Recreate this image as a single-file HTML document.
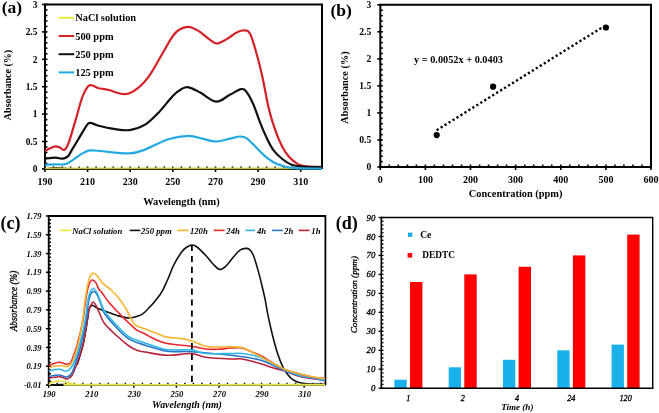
<!DOCTYPE html>
<html><head><meta charset="utf-8"><style>
html,body{margin:0;padding:0;background:#fff;}
body{width:659px;height:413px;overflow:hidden;font-family:"Liberation Serif",serif;}
svg{display:block;filter:blur(0.3px);}
</style></head><body>
<svg width="659" height="413" viewBox="0 0 659 413">
<rect width="659" height="413" fill="#fff"/>
<g>
<path d="M45.0,4.5 H322.0 V168.9" fill="none" stroke="#000" stroke-width="2"/>
<line x1="45.0" y1="3.5" x2="45.0" y2="169.9" stroke="#000" stroke-width="2"/>
<line x1="44.0" y1="168.9" x2="322.0" y2="168.9" stroke="#000" stroke-width="2"/>
<line x1="42.0" y1="168.9" x2="47.5" y2="168.9" stroke="#000" stroke-width="1.6"/>
<text x="37.4" y="172.1" text-anchor="end" font-family="Liberation Serif" font-weight="bold" font-size="9.4">0</text>
<line x1="45.0" y1="163.4" x2="47.5" y2="163.4" stroke="#000" stroke-width="1.6"/>
<line x1="45.0" y1="157.9" x2="47.5" y2="157.9" stroke="#000" stroke-width="1.6"/>
<line x1="45.0" y1="152.5" x2="47.5" y2="152.5" stroke="#000" stroke-width="1.6"/>
<line x1="45.0" y1="147.0" x2="47.5" y2="147.0" stroke="#000" stroke-width="1.6"/>
<line x1="42.0" y1="141.5" x2="47.5" y2="141.5" stroke="#000" stroke-width="1.6"/>
<text x="37.4" y="144.7" text-anchor="end" font-family="Liberation Serif" font-weight="bold" font-size="9.4">0.5</text>
<line x1="45.0" y1="136.0" x2="47.5" y2="136.0" stroke="#000" stroke-width="1.6"/>
<line x1="45.0" y1="130.5" x2="47.5" y2="130.5" stroke="#000" stroke-width="1.6"/>
<line x1="45.0" y1="125.1" x2="47.5" y2="125.1" stroke="#000" stroke-width="1.6"/>
<line x1="45.0" y1="119.6" x2="47.5" y2="119.6" stroke="#000" stroke-width="1.6"/>
<line x1="42.0" y1="114.1" x2="47.5" y2="114.1" stroke="#000" stroke-width="1.6"/>
<text x="37.4" y="117.3" text-anchor="end" font-family="Liberation Serif" font-weight="bold" font-size="9.4">1</text>
<line x1="45.0" y1="108.6" x2="47.5" y2="108.6" stroke="#000" stroke-width="1.6"/>
<line x1="45.0" y1="103.1" x2="47.5" y2="103.1" stroke="#000" stroke-width="1.6"/>
<line x1="45.0" y1="97.7" x2="47.5" y2="97.7" stroke="#000" stroke-width="1.6"/>
<line x1="45.0" y1="92.2" x2="47.5" y2="92.2" stroke="#000" stroke-width="1.6"/>
<line x1="42.0" y1="86.7" x2="47.5" y2="86.7" stroke="#000" stroke-width="1.6"/>
<text x="37.4" y="89.9" text-anchor="end" font-family="Liberation Serif" font-weight="bold" font-size="9.4">1.5</text>
<line x1="45.0" y1="81.2" x2="47.5" y2="81.2" stroke="#000" stroke-width="1.6"/>
<line x1="45.0" y1="75.7" x2="47.5" y2="75.7" stroke="#000" stroke-width="1.6"/>
<line x1="45.0" y1="70.3" x2="47.5" y2="70.3" stroke="#000" stroke-width="1.6"/>
<line x1="45.0" y1="64.8" x2="47.5" y2="64.8" stroke="#000" stroke-width="1.6"/>
<line x1="42.0" y1="59.3" x2="47.5" y2="59.3" stroke="#000" stroke-width="1.6"/>
<text x="37.4" y="62.5" text-anchor="end" font-family="Liberation Serif" font-weight="bold" font-size="9.4">2</text>
<line x1="45.0" y1="53.8" x2="47.5" y2="53.8" stroke="#000" stroke-width="1.6"/>
<line x1="45.0" y1="48.3" x2="47.5" y2="48.3" stroke="#000" stroke-width="1.6"/>
<line x1="45.0" y1="42.9" x2="47.5" y2="42.9" stroke="#000" stroke-width="1.6"/>
<line x1="45.0" y1="37.4" x2="47.5" y2="37.4" stroke="#000" stroke-width="1.6"/>
<line x1="42.0" y1="31.9" x2="47.5" y2="31.9" stroke="#000" stroke-width="1.6"/>
<text x="37.4" y="35.1" text-anchor="end" font-family="Liberation Serif" font-weight="bold" font-size="9.4">2.5</text>
<line x1="45.0" y1="26.4" x2="47.5" y2="26.4" stroke="#000" stroke-width="1.6"/>
<line x1="45.0" y1="20.9" x2="47.5" y2="20.9" stroke="#000" stroke-width="1.6"/>
<line x1="45.0" y1="15.5" x2="47.5" y2="15.5" stroke="#000" stroke-width="1.6"/>
<line x1="45.0" y1="10.0" x2="47.5" y2="10.0" stroke="#000" stroke-width="1.6"/>
<line x1="42.0" y1="4.5" x2="47.5" y2="4.5" stroke="#000" stroke-width="1.6"/>
<text x="37.4" y="7.7" text-anchor="end" font-family="Liberation Serif" font-weight="bold" font-size="9.4">3</text>
<line x1="45.0" y1="166.4" x2="45.0" y2="171.9" stroke="#000" stroke-width="1.6"/>
<text x="45.0" y="184.6" text-anchor="middle" font-family="Liberation Serif" font-weight="bold" font-size="10">190</text>
<line x1="53.5" y1="166.4" x2="53.5" y2="168.9" stroke="#000" stroke-width="1.6"/>
<line x1="62.0" y1="166.4" x2="62.0" y2="168.9" stroke="#000" stroke-width="1.6"/>
<line x1="70.6" y1="166.4" x2="70.6" y2="168.9" stroke="#000" stroke-width="1.6"/>
<line x1="79.1" y1="166.4" x2="79.1" y2="168.9" stroke="#000" stroke-width="1.6"/>
<line x1="87.6" y1="166.4" x2="87.6" y2="171.9" stroke="#000" stroke-width="1.6"/>
<text x="87.6" y="184.6" text-anchor="middle" font-family="Liberation Serif" font-weight="bold" font-size="10">210</text>
<line x1="96.1" y1="166.4" x2="96.1" y2="168.9" stroke="#000" stroke-width="1.6"/>
<line x1="104.7" y1="166.4" x2="104.7" y2="168.9" stroke="#000" stroke-width="1.6"/>
<line x1="113.2" y1="166.4" x2="113.2" y2="168.9" stroke="#000" stroke-width="1.6"/>
<line x1="121.7" y1="166.4" x2="121.7" y2="168.9" stroke="#000" stroke-width="1.6"/>
<line x1="130.2" y1="166.4" x2="130.2" y2="171.9" stroke="#000" stroke-width="1.6"/>
<text x="130.2" y="184.6" text-anchor="middle" font-family="Liberation Serif" font-weight="bold" font-size="10">230</text>
<line x1="138.8" y1="166.4" x2="138.8" y2="168.9" stroke="#000" stroke-width="1.6"/>
<line x1="147.3" y1="166.4" x2="147.3" y2="168.9" stroke="#000" stroke-width="1.6"/>
<line x1="155.8" y1="166.4" x2="155.8" y2="168.9" stroke="#000" stroke-width="1.6"/>
<line x1="164.3" y1="166.4" x2="164.3" y2="168.9" stroke="#000" stroke-width="1.6"/>
<line x1="172.8" y1="166.4" x2="172.8" y2="171.9" stroke="#000" stroke-width="1.6"/>
<text x="172.8" y="184.6" text-anchor="middle" font-family="Liberation Serif" font-weight="bold" font-size="10">250</text>
<line x1="181.4" y1="166.4" x2="181.4" y2="168.9" stroke="#000" stroke-width="1.6"/>
<line x1="189.9" y1="166.4" x2="189.9" y2="168.9" stroke="#000" stroke-width="1.6"/>
<line x1="198.4" y1="166.4" x2="198.4" y2="168.9" stroke="#000" stroke-width="1.6"/>
<line x1="206.9" y1="166.4" x2="206.9" y2="168.9" stroke="#000" stroke-width="1.6"/>
<line x1="215.5" y1="166.4" x2="215.5" y2="171.9" stroke="#000" stroke-width="1.6"/>
<text x="215.5" y="184.6" text-anchor="middle" font-family="Liberation Serif" font-weight="bold" font-size="10">270</text>
<line x1="224.0" y1="166.4" x2="224.0" y2="168.9" stroke="#000" stroke-width="1.6"/>
<line x1="232.5" y1="166.4" x2="232.5" y2="168.9" stroke="#000" stroke-width="1.6"/>
<line x1="241.0" y1="166.4" x2="241.0" y2="168.9" stroke="#000" stroke-width="1.6"/>
<line x1="249.6" y1="166.4" x2="249.6" y2="168.9" stroke="#000" stroke-width="1.6"/>
<line x1="258.1" y1="166.4" x2="258.1" y2="171.9" stroke="#000" stroke-width="1.6"/>
<text x="258.1" y="184.6" text-anchor="middle" font-family="Liberation Serif" font-weight="bold" font-size="10">290</text>
<line x1="266.6" y1="166.4" x2="266.6" y2="168.9" stroke="#000" stroke-width="1.6"/>
<line x1="275.1" y1="166.4" x2="275.1" y2="168.9" stroke="#000" stroke-width="1.6"/>
<line x1="283.6" y1="166.4" x2="283.6" y2="168.9" stroke="#000" stroke-width="1.6"/>
<line x1="292.2" y1="166.4" x2="292.2" y2="168.9" stroke="#000" stroke-width="1.6"/>
<line x1="300.7" y1="166.4" x2="300.7" y2="171.9" stroke="#000" stroke-width="1.6"/>
<text x="300.7" y="184.6" text-anchor="middle" font-family="Liberation Serif" font-weight="bold" font-size="10">310</text>
<line x1="309.2" y1="166.4" x2="309.2" y2="168.9" stroke="#000" stroke-width="1.6"/>
<line x1="317.7" y1="166.4" x2="317.7" y2="168.9" stroke="#000" stroke-width="1.6"/>
<path d="M47,168.6 C52,167.6 58,167.4 64,168.2 S70,168.8 75,168.8" fill="none" stroke="#000" stroke-width="1.4"/>
<path d="M45,168.4 H322" fill="none" stroke="#d6d240" stroke-width="1.8" opacity="0.9"/>
<path d="M45.0,150.9 C45.8,150.5 48.3,149.1 50.0,148.3 C51.7,147.5 53.7,146.4 55.4,146.3 C57.1,146.2 58.5,147.0 60.0,147.6 C61.5,148.2 63.0,150.8 64.5,149.8 C66.0,148.8 67.1,146.9 69.0,141.8 C70.9,136.7 73.6,126.6 75.9,119.0 C78.2,111.4 80.4,101.8 82.7,96.2 C85.0,90.6 86.9,86.6 89.6,85.3 C92.3,84.0 95.6,87.5 98.7,88.3 C101.8,89.0 103.6,88.8 108.0,89.8 C112.4,90.8 120.0,94.5 125.0,94.2 C130.0,93.9 134.1,91.0 138.2,87.8 C142.3,84.6 145.8,80.6 149.6,75.3 C153.4,70.0 157.2,62.5 161.0,56.0 C164.8,49.5 169.4,41.0 172.4,36.6 C175.4,32.2 176.5,31.4 179.2,29.8 C181.8,28.2 185.1,26.6 188.3,26.8 C191.5,27.0 195.1,28.9 198.5,30.9 C201.9,32.9 205.8,36.8 208.8,38.9 C211.8,41.0 213.7,43.5 216.7,43.5 C219.7,43.5 223.8,40.7 227.0,38.9 C230.2,37.1 233.4,34.2 236.1,32.8 C238.8,31.4 240.6,30.4 242.9,30.5 C245.2,30.6 247.5,29.3 249.8,33.2 C252.1,37.1 254.5,46.5 256.6,53.7 C258.7,60.9 260.2,67.3 262.3,76.5 C264.4,85.7 266.7,99.8 268.9,108.9 C271.1,118.0 273.4,124.9 275.6,131.2 C277.8,137.5 280.1,142.5 282.3,146.8 C284.5,151.1 286.4,153.9 289.0,156.8 C291.6,159.7 294.9,162.5 297.9,164.1 C300.9,165.7 302.8,165.9 306.8,166.4 C310.8,166.9 319.5,166.9 322.0,167.0" fill="none" stroke="#d42027" stroke-width="2.2"/>
<path d="M45.0,158.7 C46.7,158.5 52.2,157.6 55.2,157.6 C58.2,157.6 60.6,158.9 62.8,158.7 C64.9,158.4 66.7,157.4 68.1,156.1 C69.5,154.8 69.6,153.7 71.3,150.9 C73.0,148.1 75.9,143.3 78.2,139.5 C80.5,135.7 83.1,130.9 85.0,128.1 C86.9,125.3 87.3,123.3 89.6,122.9 C91.9,122.5 94.7,124.8 98.7,125.8 C102.7,126.8 108.6,128.2 113.7,128.9 C118.8,129.6 124.3,130.8 129.6,130.1 C134.9,129.3 140.6,127.4 145.5,124.4 C150.4,121.4 154.6,116.7 159.2,111.9 C163.8,107.2 169.0,99.8 172.8,95.9 C176.6,92.0 179.3,90.1 182.0,88.7 C184.7,87.3 185.8,86.7 188.8,87.3 C191.8,87.9 195.6,90.1 200.2,92.5 C204.8,94.9 211.2,101.2 216.1,101.6 C221.0,102.0 225.6,96.9 229.8,94.8 C234.0,92.7 238.3,89.5 241.1,89.1 C243.9,88.7 244.6,89.6 246.7,92.2 C248.8,94.8 251.2,99.5 253.4,104.5 C255.6,109.5 257.8,116.7 260.0,122.3 C262.2,127.9 264.5,133.3 266.7,137.9 C268.9,142.5 270.8,146.6 273.4,150.1 C276.0,153.6 279.3,156.6 282.3,159.0 C285.3,161.4 287.9,163.3 291.2,164.6 C294.5,165.9 297.2,166.2 302.3,166.6 C307.4,167.0 318.7,167.1 322.0,167.2" fill="none" stroke="#111" stroke-width="2.2"/>
<path d="M45.0,164.8 C46.7,164.7 51.7,164.5 55.2,164.4 C58.7,164.3 62.6,164.9 65.8,164.0 C68.9,163.1 71.3,160.9 74.1,159.1 C76.9,157.3 79.9,154.8 82.5,153.4 C85.1,152.0 86.7,150.8 89.6,150.4 C92.5,150.0 93.3,150.5 100.0,151.0 C106.7,151.5 122.0,153.6 129.6,153.3 C137.2,153.0 139.1,151.8 145.5,149.4 C151.9,147.1 161.1,141.5 168.3,139.2 C175.5,136.9 183.1,135.9 188.8,135.8 C194.5,135.7 197.9,137.8 202.4,138.7 C206.9,139.6 211.5,141.5 216.1,141.5 C220.7,141.5 225.8,139.5 229.8,138.7 C233.8,137.9 237.2,136.6 240.0,136.5 C242.8,136.4 244.1,136.6 246.7,138.3 C249.3,140.0 252.6,143.9 255.6,146.8 C258.6,149.7 261.5,153.1 264.5,155.7 C267.5,158.3 270.1,160.5 273.4,162.3 C276.7,164.1 280.8,165.5 284.5,166.5 C288.2,167.5 289.4,167.8 295.6,168.2 C301.9,168.5 317.6,168.5 322.0,168.6" fill="none" stroke="#22a9e0" stroke-width="2.2"/>
<line x1="58.6" y1="17.8" x2="74.2" y2="17.8" stroke="#e6e83a" stroke-width="2"/>
<text x="75.2" y="21.3" font-family="Liberation Serif" font-weight="bold" font-size="10.4">NaCl solution</text>
<line x1="58.6" y1="36.0" x2="74.2" y2="36.0" stroke="#d42027" stroke-width="2"/>
<text x="75.2" y="39.5" font-family="Liberation Serif" font-weight="bold" font-size="10.4">500 ppm</text>
<line x1="58.6" y1="54.2" x2="74.2" y2="54.2" stroke="#111" stroke-width="2"/>
<text x="75.2" y="57.7" font-family="Liberation Serif" font-weight="bold" font-size="10.4">250 ppm</text>
<line x1="58.6" y1="72.4" x2="74.2" y2="72.4" stroke="#22a9e0" stroke-width="2"/>
<text x="75.2" y="75.9" font-family="Liberation Serif" font-weight="bold" font-size="10.4">125 ppm</text>
<text x="181.5" y="205" text-anchor="middle" font-family="Liberation Serif" font-weight="bold" font-size="10.4">Wavelength (nm)</text>
<text transform="translate(10.6,85) rotate(-90)" text-anchor="middle" font-family="Liberation Serif" font-weight="bold" font-size="10">Absorbance (%)</text>
<text x="1.8" y="13.2" font-family="Liberation Serif" font-weight="bold" font-size="17.5">(a)</text>
</g>
<g>
<path d="M380.3,4.8 H651.0 V167.0" fill="none" stroke="#000" stroke-width="2"/>
<line x1="380.3" y1="3.8" x2="380.3" y2="168.0" stroke="#000" stroke-width="2"/>
<line x1="379.3" y1="167.0" x2="652.0" y2="167.0" stroke="#000" stroke-width="2"/>
<line x1="377.3" y1="167.0" x2="382.8" y2="167.0" stroke="#000" stroke-width="1.6"/>
<text x="371.2" y="170.3" text-anchor="end" font-family="Liberation Serif" font-weight="bold" font-size="9.6">0</text>
<line x1="380.3" y1="161.6" x2="382.8" y2="161.6" stroke="#000" stroke-width="1.6"/>
<line x1="380.3" y1="156.2" x2="382.8" y2="156.2" stroke="#000" stroke-width="1.6"/>
<line x1="380.3" y1="150.8" x2="382.8" y2="150.8" stroke="#000" stroke-width="1.6"/>
<line x1="380.3" y1="145.4" x2="382.8" y2="145.4" stroke="#000" stroke-width="1.6"/>
<line x1="377.3" y1="140.0" x2="382.8" y2="140.0" stroke="#000" stroke-width="1.6"/>
<text x="371.2" y="143.3" text-anchor="end" font-family="Liberation Serif" font-weight="bold" font-size="9.6">0.5</text>
<line x1="380.3" y1="134.6" x2="382.8" y2="134.6" stroke="#000" stroke-width="1.6"/>
<line x1="380.3" y1="129.2" x2="382.8" y2="129.2" stroke="#000" stroke-width="1.6"/>
<line x1="380.3" y1="123.7" x2="382.8" y2="123.7" stroke="#000" stroke-width="1.6"/>
<line x1="380.3" y1="118.3" x2="382.8" y2="118.3" stroke="#000" stroke-width="1.6"/>
<line x1="377.3" y1="112.9" x2="382.8" y2="112.9" stroke="#000" stroke-width="1.6"/>
<text x="371.2" y="116.2" text-anchor="end" font-family="Liberation Serif" font-weight="bold" font-size="9.6">1</text>
<line x1="380.3" y1="107.5" x2="382.8" y2="107.5" stroke="#000" stroke-width="1.6"/>
<line x1="380.3" y1="102.1" x2="382.8" y2="102.1" stroke="#000" stroke-width="1.6"/>
<line x1="380.3" y1="96.7" x2="382.8" y2="96.7" stroke="#000" stroke-width="1.6"/>
<line x1="380.3" y1="91.3" x2="382.8" y2="91.3" stroke="#000" stroke-width="1.6"/>
<line x1="377.3" y1="85.9" x2="382.8" y2="85.9" stroke="#000" stroke-width="1.6"/>
<text x="371.2" y="89.2" text-anchor="end" font-family="Liberation Serif" font-weight="bold" font-size="9.6">1.5</text>
<line x1="380.3" y1="80.5" x2="382.8" y2="80.5" stroke="#000" stroke-width="1.6"/>
<line x1="380.3" y1="75.1" x2="382.8" y2="75.1" stroke="#000" stroke-width="1.6"/>
<line x1="380.3" y1="69.7" x2="382.8" y2="69.7" stroke="#000" stroke-width="1.6"/>
<line x1="380.3" y1="64.3" x2="382.8" y2="64.3" stroke="#000" stroke-width="1.6"/>
<line x1="377.3" y1="58.9" x2="382.8" y2="58.9" stroke="#000" stroke-width="1.6"/>
<text x="371.2" y="62.2" text-anchor="end" font-family="Liberation Serif" font-weight="bold" font-size="9.6">2</text>
<line x1="380.3" y1="53.5" x2="382.8" y2="53.5" stroke="#000" stroke-width="1.6"/>
<line x1="380.3" y1="48.1" x2="382.8" y2="48.1" stroke="#000" stroke-width="1.6"/>
<line x1="380.3" y1="42.6" x2="382.8" y2="42.6" stroke="#000" stroke-width="1.6"/>
<line x1="380.3" y1="37.2" x2="382.8" y2="37.2" stroke="#000" stroke-width="1.6"/>
<line x1="377.3" y1="31.8" x2="382.8" y2="31.8" stroke="#000" stroke-width="1.6"/>
<text x="371.2" y="35.1" text-anchor="end" font-family="Liberation Serif" font-weight="bold" font-size="9.6">2.5</text>
<line x1="380.3" y1="26.4" x2="382.8" y2="26.4" stroke="#000" stroke-width="1.6"/>
<line x1="380.3" y1="21.0" x2="382.8" y2="21.0" stroke="#000" stroke-width="1.6"/>
<line x1="380.3" y1="15.6" x2="382.8" y2="15.6" stroke="#000" stroke-width="1.6"/>
<line x1="380.3" y1="10.2" x2="382.8" y2="10.2" stroke="#000" stroke-width="1.6"/>
<line x1="377.3" y1="4.8" x2="382.8" y2="4.8" stroke="#000" stroke-width="1.6"/>
<text x="371.2" y="8.1" text-anchor="end" font-family="Liberation Serif" font-weight="bold" font-size="9.6">3</text>
<line x1="380.3" y1="164.5" x2="380.3" y2="170.0" stroke="#000" stroke-width="1.6"/>
<text x="380.3" y="183.4" text-anchor="middle" font-family="Liberation Serif" font-weight="bold" font-size="10">0</text>
<line x1="389.3" y1="164.5" x2="389.3" y2="167.0" stroke="#000" stroke-width="1.6"/>
<line x1="398.3" y1="164.5" x2="398.3" y2="167.0" stroke="#000" stroke-width="1.6"/>
<line x1="407.4" y1="164.5" x2="407.4" y2="167.0" stroke="#000" stroke-width="1.6"/>
<line x1="416.4" y1="164.5" x2="416.4" y2="167.0" stroke="#000" stroke-width="1.6"/>
<line x1="425.4" y1="164.5" x2="425.4" y2="170.0" stroke="#000" stroke-width="1.6"/>
<text x="425.4" y="183.4" text-anchor="middle" font-family="Liberation Serif" font-weight="bold" font-size="10">100</text>
<line x1="434.4" y1="164.5" x2="434.4" y2="167.0" stroke="#000" stroke-width="1.6"/>
<line x1="443.5" y1="164.5" x2="443.5" y2="167.0" stroke="#000" stroke-width="1.6"/>
<line x1="452.5" y1="164.5" x2="452.5" y2="167.0" stroke="#000" stroke-width="1.6"/>
<line x1="461.5" y1="164.5" x2="461.5" y2="167.0" stroke="#000" stroke-width="1.6"/>
<line x1="470.5" y1="164.5" x2="470.5" y2="170.0" stroke="#000" stroke-width="1.6"/>
<text x="470.5" y="183.4" text-anchor="middle" font-family="Liberation Serif" font-weight="bold" font-size="10">200</text>
<line x1="479.6" y1="164.5" x2="479.6" y2="167.0" stroke="#000" stroke-width="1.6"/>
<line x1="488.6" y1="164.5" x2="488.6" y2="167.0" stroke="#000" stroke-width="1.6"/>
<line x1="497.6" y1="164.5" x2="497.6" y2="167.0" stroke="#000" stroke-width="1.6"/>
<line x1="506.6" y1="164.5" x2="506.6" y2="167.0" stroke="#000" stroke-width="1.6"/>
<line x1="515.6" y1="164.5" x2="515.6" y2="170.0" stroke="#000" stroke-width="1.6"/>
<text x="515.6" y="183.4" text-anchor="middle" font-family="Liberation Serif" font-weight="bold" font-size="10">300</text>
<line x1="524.7" y1="164.5" x2="524.7" y2="167.0" stroke="#000" stroke-width="1.6"/>
<line x1="533.7" y1="164.5" x2="533.7" y2="167.0" stroke="#000" stroke-width="1.6"/>
<line x1="542.7" y1="164.5" x2="542.7" y2="167.0" stroke="#000" stroke-width="1.6"/>
<line x1="551.7" y1="164.5" x2="551.7" y2="167.0" stroke="#000" stroke-width="1.6"/>
<line x1="560.8" y1="164.5" x2="560.8" y2="170.0" stroke="#000" stroke-width="1.6"/>
<text x="560.8" y="183.4" text-anchor="middle" font-family="Liberation Serif" font-weight="bold" font-size="10">400</text>
<line x1="569.8" y1="164.5" x2="569.8" y2="167.0" stroke="#000" stroke-width="1.6"/>
<line x1="578.8" y1="164.5" x2="578.8" y2="167.0" stroke="#000" stroke-width="1.6"/>
<line x1="587.8" y1="164.5" x2="587.8" y2="167.0" stroke="#000" stroke-width="1.6"/>
<line x1="596.9" y1="164.5" x2="596.9" y2="167.0" stroke="#000" stroke-width="1.6"/>
<line x1="605.9" y1="164.5" x2="605.9" y2="170.0" stroke="#000" stroke-width="1.6"/>
<text x="605.9" y="183.4" text-anchor="middle" font-family="Liberation Serif" font-weight="bold" font-size="10">500</text>
<line x1="614.9" y1="164.5" x2="614.9" y2="167.0" stroke="#000" stroke-width="1.6"/>
<line x1="623.9" y1="164.5" x2="623.9" y2="167.0" stroke="#000" stroke-width="1.6"/>
<line x1="633.0" y1="164.5" x2="633.0" y2="167.0" stroke="#000" stroke-width="1.6"/>
<line x1="642.0" y1="164.5" x2="642.0" y2="167.0" stroke="#000" stroke-width="1.6"/>
<line x1="651.0" y1="164.5" x2="651.0" y2="170.0" stroke="#000" stroke-width="1.6"/>
<text x="651.0" y="183.4" text-anchor="middle" font-family="Liberation Serif" font-weight="bold" font-size="10">600</text>
<line x1="436.7" y1="130.2" x2="601.4" y2="27.9" stroke="#000" stroke-width="2.4" stroke-dasharray="2.2,2.47"/>
<circle cx="436.7" cy="135.1" r="3.1" fill="#000"/>
<circle cx="493.1" cy="86.7" r="3.1" fill="#000"/>
<circle cx="605.9" cy="27.5" r="3.1" fill="#000"/>
<text x="414" y="63.1" font-family="Liberation Serif" font-weight="bold" font-size="10.3">y = 0.0052x + 0.0403</text>
<text x="515.6" y="197.3" text-anchor="middle" font-family="Liberation Serif" font-weight="bold" font-size="10.4">Concentration (ppm)</text>
<text transform="translate(348.2,87.5) rotate(-90)" text-anchor="middle" font-family="Liberation Serif" font-weight="bold" font-size="10.3">Absorbance (%)</text>
<text x="330.5" y="15.9" font-family="Liberation Serif" font-weight="bold" font-size="17.5">(b)</text>
</g>
<g>
<path d="M48.7,216.0 H325.4 V385.0" fill="none" stroke="#000" stroke-width="1.8"/>
<line x1="48.7" y1="215.0" x2="48.7" y2="386.0" stroke="#000" stroke-width="1.8"/>
<line x1="47.7" y1="385.0" x2="325.4" y2="385.0" stroke="#000" stroke-width="1.8"/>
<line x1="45.9" y1="385.0" x2="51.0" y2="385.0" stroke="#000" stroke-width="1.5"/>
<text x="41.4" y="388.1" text-anchor="end" font-family="Liberation Serif" font-weight="bold" font-style="italic" font-size="8.5">-0.01</text>
<line x1="48.7" y1="381.2" x2="51.0" y2="381.2" stroke="#000" stroke-width="1.5"/>
<line x1="48.7" y1="377.5" x2="51.0" y2="377.5" stroke="#000" stroke-width="1.5"/>
<line x1="48.7" y1="373.7" x2="51.0" y2="373.7" stroke="#000" stroke-width="1.5"/>
<line x1="48.7" y1="370.0" x2="51.0" y2="370.0" stroke="#000" stroke-width="1.5"/>
<line x1="45.9" y1="366.2" x2="51.0" y2="366.2" stroke="#000" stroke-width="1.5"/>
<text x="41.4" y="369.3" text-anchor="end" font-family="Liberation Serif" font-weight="bold" font-style="italic" font-size="8.5">0.19</text>
<line x1="48.7" y1="362.5" x2="51.0" y2="362.5" stroke="#000" stroke-width="1.5"/>
<line x1="48.7" y1="358.7" x2="51.0" y2="358.7" stroke="#000" stroke-width="1.5"/>
<line x1="48.7" y1="355.0" x2="51.0" y2="355.0" stroke="#000" stroke-width="1.5"/>
<line x1="48.7" y1="351.2" x2="51.0" y2="351.2" stroke="#000" stroke-width="1.5"/>
<line x1="45.9" y1="347.4" x2="51.0" y2="347.4" stroke="#000" stroke-width="1.5"/>
<text x="41.4" y="350.5" text-anchor="end" font-family="Liberation Serif" font-weight="bold" font-style="italic" font-size="8.5">0.39</text>
<line x1="48.7" y1="343.7" x2="51.0" y2="343.7" stroke="#000" stroke-width="1.5"/>
<line x1="48.7" y1="339.9" x2="51.0" y2="339.9" stroke="#000" stroke-width="1.5"/>
<line x1="48.7" y1="336.2" x2="51.0" y2="336.2" stroke="#000" stroke-width="1.5"/>
<line x1="48.7" y1="332.4" x2="51.0" y2="332.4" stroke="#000" stroke-width="1.5"/>
<line x1="45.9" y1="328.7" x2="51.0" y2="328.7" stroke="#000" stroke-width="1.5"/>
<text x="41.4" y="331.8" text-anchor="end" font-family="Liberation Serif" font-weight="bold" font-style="italic" font-size="8.5">0.59</text>
<line x1="48.7" y1="324.9" x2="51.0" y2="324.9" stroke="#000" stroke-width="1.5"/>
<line x1="48.7" y1="321.2" x2="51.0" y2="321.2" stroke="#000" stroke-width="1.5"/>
<line x1="48.7" y1="317.4" x2="51.0" y2="317.4" stroke="#000" stroke-width="1.5"/>
<line x1="48.7" y1="313.6" x2="51.0" y2="313.6" stroke="#000" stroke-width="1.5"/>
<line x1="45.9" y1="309.9" x2="51.0" y2="309.9" stroke="#000" stroke-width="1.5"/>
<text x="41.4" y="313.0" text-anchor="end" font-family="Liberation Serif" font-weight="bold" font-style="italic" font-size="8.5">0.79</text>
<line x1="48.7" y1="306.1" x2="51.0" y2="306.1" stroke="#000" stroke-width="1.5"/>
<line x1="48.7" y1="302.4" x2="51.0" y2="302.4" stroke="#000" stroke-width="1.5"/>
<line x1="48.7" y1="298.6" x2="51.0" y2="298.6" stroke="#000" stroke-width="1.5"/>
<line x1="48.7" y1="294.9" x2="51.0" y2="294.9" stroke="#000" stroke-width="1.5"/>
<line x1="45.9" y1="291.1" x2="51.0" y2="291.1" stroke="#000" stroke-width="1.5"/>
<text x="41.4" y="294.2" text-anchor="end" font-family="Liberation Serif" font-weight="bold" font-style="italic" font-size="8.5">0.99</text>
<line x1="48.7" y1="287.4" x2="51.0" y2="287.4" stroke="#000" stroke-width="1.5"/>
<line x1="48.7" y1="283.6" x2="51.0" y2="283.6" stroke="#000" stroke-width="1.5"/>
<line x1="48.7" y1="279.8" x2="51.0" y2="279.8" stroke="#000" stroke-width="1.5"/>
<line x1="48.7" y1="276.1" x2="51.0" y2="276.1" stroke="#000" stroke-width="1.5"/>
<line x1="45.9" y1="272.3" x2="51.0" y2="272.3" stroke="#000" stroke-width="1.5"/>
<text x="41.4" y="275.4" text-anchor="end" font-family="Liberation Serif" font-weight="bold" font-style="italic" font-size="8.5">1.19</text>
<line x1="48.7" y1="268.6" x2="51.0" y2="268.6" stroke="#000" stroke-width="1.5"/>
<line x1="48.7" y1="264.8" x2="51.0" y2="264.8" stroke="#000" stroke-width="1.5"/>
<line x1="48.7" y1="261.1" x2="51.0" y2="261.1" stroke="#000" stroke-width="1.5"/>
<line x1="48.7" y1="257.3" x2="51.0" y2="257.3" stroke="#000" stroke-width="1.5"/>
<line x1="45.9" y1="253.6" x2="51.0" y2="253.6" stroke="#000" stroke-width="1.5"/>
<text x="41.4" y="256.7" text-anchor="end" font-family="Liberation Serif" font-weight="bold" font-style="italic" font-size="8.5">1.39</text>
<line x1="48.7" y1="249.8" x2="51.0" y2="249.8" stroke="#000" stroke-width="1.5"/>
<line x1="48.7" y1="246.0" x2="51.0" y2="246.0" stroke="#000" stroke-width="1.5"/>
<line x1="48.7" y1="242.3" x2="51.0" y2="242.3" stroke="#000" stroke-width="1.5"/>
<line x1="48.7" y1="238.5" x2="51.0" y2="238.5" stroke="#000" stroke-width="1.5"/>
<line x1="45.9" y1="234.8" x2="51.0" y2="234.8" stroke="#000" stroke-width="1.5"/>
<text x="41.4" y="237.9" text-anchor="end" font-family="Liberation Serif" font-weight="bold" font-style="italic" font-size="8.5">1.59</text>
<line x1="48.7" y1="231.0" x2="51.0" y2="231.0" stroke="#000" stroke-width="1.5"/>
<line x1="48.7" y1="227.3" x2="51.0" y2="227.3" stroke="#000" stroke-width="1.5"/>
<line x1="48.7" y1="223.5" x2="51.0" y2="223.5" stroke="#000" stroke-width="1.5"/>
<line x1="48.7" y1="219.8" x2="51.0" y2="219.8" stroke="#000" stroke-width="1.5"/>
<line x1="45.9" y1="216.0" x2="51.0" y2="216.0" stroke="#000" stroke-width="1.5"/>
<text x="41.4" y="219.1" text-anchor="end" font-family="Liberation Serif" font-weight="bold" font-style="italic" font-size="8.5">1.79</text>
<line x1="48.7" y1="382.7" x2="48.7" y2="387.8" stroke="#000" stroke-width="1.5"/>
<text x="49.2" y="396.8" text-anchor="middle" font-family="Liberation Serif" font-weight="bold" font-style="italic" font-size="8.6">190</text>
<line x1="57.2" y1="382.7" x2="57.2" y2="385.0" stroke="#000" stroke-width="1.5"/>
<line x1="65.7" y1="382.7" x2="65.7" y2="385.0" stroke="#000" stroke-width="1.5"/>
<line x1="74.2" y1="382.7" x2="74.2" y2="385.0" stroke="#000" stroke-width="1.5"/>
<line x1="82.8" y1="382.7" x2="82.8" y2="385.0" stroke="#000" stroke-width="1.5"/>
<line x1="91.3" y1="382.7" x2="91.3" y2="387.8" stroke="#000" stroke-width="1.5"/>
<text x="91.8" y="396.8" text-anchor="middle" font-family="Liberation Serif" font-weight="bold" font-style="italic" font-size="8.6">210</text>
<line x1="99.8" y1="382.7" x2="99.8" y2="385.0" stroke="#000" stroke-width="1.5"/>
<line x1="108.3" y1="382.7" x2="108.3" y2="385.0" stroke="#000" stroke-width="1.5"/>
<line x1="116.8" y1="382.7" x2="116.8" y2="385.0" stroke="#000" stroke-width="1.5"/>
<line x1="125.3" y1="382.7" x2="125.3" y2="385.0" stroke="#000" stroke-width="1.5"/>
<line x1="133.8" y1="382.7" x2="133.8" y2="387.8" stroke="#000" stroke-width="1.5"/>
<text x="134.3" y="396.8" text-anchor="middle" font-family="Liberation Serif" font-weight="bold" font-style="italic" font-size="8.6">230</text>
<line x1="142.4" y1="382.7" x2="142.4" y2="385.0" stroke="#000" stroke-width="1.5"/>
<line x1="150.9" y1="382.7" x2="150.9" y2="385.0" stroke="#000" stroke-width="1.5"/>
<line x1="159.4" y1="382.7" x2="159.4" y2="385.0" stroke="#000" stroke-width="1.5"/>
<line x1="167.9" y1="382.7" x2="167.9" y2="385.0" stroke="#000" stroke-width="1.5"/>
<line x1="176.4" y1="382.7" x2="176.4" y2="387.8" stroke="#000" stroke-width="1.5"/>
<text x="176.9" y="396.8" text-anchor="middle" font-family="Liberation Serif" font-weight="bold" font-style="italic" font-size="8.6">250</text>
<line x1="184.9" y1="382.7" x2="184.9" y2="385.0" stroke="#000" stroke-width="1.5"/>
<line x1="193.4" y1="382.7" x2="193.4" y2="385.0" stroke="#000" stroke-width="1.5"/>
<line x1="201.9" y1="382.7" x2="201.9" y2="385.0" stroke="#000" stroke-width="1.5"/>
<line x1="210.5" y1="382.7" x2="210.5" y2="385.0" stroke="#000" stroke-width="1.5"/>
<line x1="219.0" y1="382.7" x2="219.0" y2="387.8" stroke="#000" stroke-width="1.5"/>
<text x="219.5" y="396.8" text-anchor="middle" font-family="Liberation Serif" font-weight="bold" font-style="italic" font-size="8.6">270</text>
<line x1="227.5" y1="382.7" x2="227.5" y2="385.0" stroke="#000" stroke-width="1.5"/>
<line x1="236.0" y1="382.7" x2="236.0" y2="385.0" stroke="#000" stroke-width="1.5"/>
<line x1="244.5" y1="382.7" x2="244.5" y2="385.0" stroke="#000" stroke-width="1.5"/>
<line x1="253.0" y1="382.7" x2="253.0" y2="385.0" stroke="#000" stroke-width="1.5"/>
<line x1="261.5" y1="382.7" x2="261.5" y2="387.8" stroke="#000" stroke-width="1.5"/>
<text x="262.0" y="396.8" text-anchor="middle" font-family="Liberation Serif" font-weight="bold" font-style="italic" font-size="8.6">290</text>
<line x1="270.1" y1="382.7" x2="270.1" y2="385.0" stroke="#000" stroke-width="1.5"/>
<line x1="278.6" y1="382.7" x2="278.6" y2="385.0" stroke="#000" stroke-width="1.5"/>
<line x1="287.1" y1="382.7" x2="287.1" y2="385.0" stroke="#000" stroke-width="1.5"/>
<line x1="295.6" y1="382.7" x2="295.6" y2="385.0" stroke="#000" stroke-width="1.5"/>
<line x1="304.1" y1="382.7" x2="304.1" y2="387.8" stroke="#000" stroke-width="1.5"/>
<text x="304.6" y="396.8" text-anchor="middle" font-family="Liberation Serif" font-weight="bold" font-style="italic" font-size="8.6">310</text>
<line x1="312.6" y1="382.7" x2="312.6" y2="385.0" stroke="#000" stroke-width="1.5"/>
<line x1="321.1" y1="382.7" x2="321.1" y2="385.0" stroke="#000" stroke-width="1.5"/>
<path d="M77.2,364.7 C77.5,363.6 78.2,361.9 79.2,358.3 C80.2,354.7 82.1,349.9 83.5,343.2 C84.9,336.5 86.8,323.9 87.7,318.4 C88.6,312.9 88.4,312.0 88.9,310.0 C89.4,308.0 90.1,306.9 90.8,306.2 C91.5,305.4 92.0,305.1 93.1,305.5 C94.2,305.9 95.5,307.4 97.5,308.3 C99.5,309.2 102.0,310.0 105.2,311.2 C108.5,312.4 113.0,314.3 117.0,315.4 C121.0,316.5 125.5,317.9 128.9,318.0 C132.3,318.1 134.7,317.3 137.4,316.3 C140.1,315.3 141.2,315.6 145.0,312.0 C148.8,308.4 156.2,300.1 160.0,294.8 C163.8,289.5 165.2,285.0 167.5,280.0 C169.8,275.0 171.4,269.6 173.8,264.9 C176.2,260.1 179.8,254.5 182.0,251.5 C184.2,248.5 185.3,248.1 187.0,247.0 C188.7,245.9 190.5,245.0 192.2,245.0 C193.9,245.0 194.7,245.2 197.0,247.0 C199.3,248.8 203.3,252.9 206.0,255.7 C208.7,258.5 210.7,261.7 213.0,264.0 C215.3,266.3 217.6,269.2 219.8,269.5 C222.0,269.8 223.7,268.1 226.0,266.0 C228.3,263.9 231.3,259.4 233.6,256.8 C235.9,254.2 238.0,251.6 240.0,250.2 C242.0,248.8 244.2,248.5 245.8,248.4 C247.4,248.3 248.2,248.4 249.4,249.4 C250.6,250.4 251.9,252.2 253.0,254.5 C254.1,256.8 255.0,260.1 256.0,263.2 C257.0,266.3 257.9,269.8 258.9,273.4 C259.9,277.0 260.8,280.8 261.8,285.0 C262.8,289.2 264.0,294.1 265.0,298.8 C266.0,303.5 266.4,307.5 267.6,313.4 C268.8,319.3 270.5,327.1 272.2,334.0 C273.9,340.9 276.1,349.0 278.0,354.8 C279.9,360.6 281.6,364.8 283.7,368.6 C285.8,372.4 288.3,375.6 290.6,377.8 C292.9,380.0 295.2,380.9 297.5,381.9 C299.8,382.8 299.8,383.1 304.4,383.5 C309.0,383.9 321.6,384.1 325.0,384.2" fill="none" stroke="#111" stroke-width="1.6"/>
<path d="M49,385 C54,384.4 62,384.2 73,384.8" fill="none" stroke="#111" stroke-width="1.6"/>
<path d="M49.0,378.2 C49.8,378.0 52.2,377.4 54.0,377.2 C55.8,376.9 57.8,376.6 59.5,376.7 C61.2,376.8 62.7,377.6 64.0,378.0 C65.3,378.4 66.0,379.4 67.3,379.0 C68.6,378.6 70.4,377.9 71.9,375.5 C73.5,373.1 75.4,367.6 76.6,364.7 C77.8,361.8 77.8,361.9 78.9,358.3 C80.0,354.7 81.9,349.9 83.3,343.2 C84.7,336.5 86.6,323.9 87.5,318.4 C88.4,312.9 88.3,312.1 88.8,310.0 C89.3,307.9 89.9,307.1 90.6,305.8 C91.3,304.5 92.2,302.0 93.1,302.0 C94.0,302.0 95.2,304.1 96.2,305.8 C97.2,307.6 97.8,309.6 99.2,312.5 C100.6,315.4 101.5,319.6 104.5,323.5 C107.5,327.4 112.9,332.2 117.0,336.0 C121.1,339.8 125.6,343.6 129.0,346.0 C132.4,348.4 134.7,349.5 137.4,350.5 C140.1,351.5 140.0,351.2 145.0,352.0 C150.0,352.8 159.6,355.1 167.3,355.3 C175.0,355.6 184.6,353.2 191.0,353.5 C197.4,353.8 198.9,356.3 205.6,357.2 C212.3,358.1 224.9,358.7 231.0,359.0 C237.1,359.3 237.2,358.2 242.0,359.0 C246.8,359.8 255.0,362.1 260.0,363.5 C265.0,364.9 267.9,366.2 272.0,367.5 C276.1,368.8 280.1,369.5 284.8,371.0 C289.5,372.5 293.3,374.9 300.0,376.5 C306.7,378.1 320.8,379.9 325.0,380.6" fill="none" stroke="#b8223a" stroke-width="1.6"/>
<path d="M49.0,376.5 C49.8,376.3 52.2,375.8 54.0,375.5 C55.8,375.2 57.4,374.8 59.5,375.0 C61.6,375.2 64.5,377.2 66.5,377.0 C68.5,376.8 69.9,376.0 71.5,373.5 C73.1,371.0 74.4,366.8 76.0,362.0 C77.6,357.2 79.3,352.2 81.0,345.0 C82.7,337.8 85.1,325.8 86.3,319.0 C87.5,312.2 87.5,308.1 88.2,304.0 C88.9,299.9 89.7,296.6 90.6,294.5 C91.5,292.4 92.4,291.4 93.5,291.5 C94.6,291.6 96.0,292.7 97.3,295.0 C98.6,297.3 100.2,302.3 101.5,305.5 C102.8,308.7 102.4,310.4 105.0,314.2 C107.6,318.0 113.1,324.0 117.1,328.2 C121.1,332.4 124.5,336.3 129.2,339.1 C133.8,341.9 138.7,343.2 145.0,345.2 C151.3,347.2 159.6,350.2 167.3,351.3 C175.0,352.4 180.4,351.0 191.0,351.7 C201.6,352.4 219.5,353.9 231.0,355.3 C242.5,356.7 251.0,357.4 260.0,360.0 C269.0,362.6 278.1,368.2 284.8,370.8 C291.5,373.4 293.3,374.2 300.0,375.8 C306.7,377.4 320.8,379.6 325.0,380.3" fill="none" stroke="#2a74c0" stroke-width="1.6"/>
<path d="M49.0,370.9 C49.8,370.7 52.2,370.1 54.0,369.8 C55.8,369.5 57.4,369.1 59.5,369.3 C61.6,369.5 64.6,371.4 66.5,371.2 C68.4,370.9 69.7,369.7 71.1,367.8 C72.5,365.9 73.5,364.1 75.0,360.0 C76.5,355.9 78.2,350.4 80.0,343.5 C81.8,336.6 84.3,325.1 85.5,318.4 C86.7,311.7 86.7,307.6 87.4,303.3 C88.1,299.0 89.0,295.0 89.9,292.6 C90.9,290.2 91.9,288.8 93.1,288.8 C94.3,288.8 95.6,290.2 96.9,292.6 C98.2,295.0 99.7,299.8 101.0,303.0 C102.3,306.2 102.3,308.0 105.0,311.8 C107.7,315.6 113.1,321.6 117.1,325.8 C121.1,330.0 125.0,334.3 129.2,337.0 C133.3,339.7 137.8,340.5 142.0,342.0 C146.2,343.5 150.4,344.9 154.6,346.2 C158.8,347.5 161.2,349.3 167.3,349.9 C173.4,350.5 184.6,349.3 191.0,349.9 C197.4,350.5 198.9,352.9 205.6,353.5 C212.3,354.1 224.9,353.5 231.0,353.5 C237.1,353.5 237.2,352.9 242.0,353.5 C246.8,354.1 255.0,355.5 260.0,357.2 C265.0,358.9 267.9,361.6 272.0,363.8 C276.1,366.0 280.1,368.2 284.8,370.2 C289.5,372.1 293.3,373.9 300.0,375.5 C306.7,377.1 320.8,379.2 325.0,380.0" fill="none" stroke="#30b6e8" stroke-width="1.6"/>
<path d="M49.0,365.8 C49.8,365.4 52.2,364.1 54.0,363.5 C55.8,362.9 57.8,362.3 59.5,362.3 C61.2,362.3 62.7,363.2 64.0,363.5 C65.3,363.8 66.2,364.4 67.3,364.3 C68.4,364.2 69.5,363.7 70.4,362.7 C71.3,361.7 71.4,361.6 72.6,358.3 C73.8,355.1 75.8,349.9 77.6,343.2 C79.4,336.5 82.1,324.6 83.3,318.4 C84.5,312.2 84.3,310.0 84.9,305.8 C85.5,301.6 86.1,296.9 86.8,293.2 C87.5,289.5 88.4,285.9 89.3,283.7 C90.2,281.5 91.2,280.1 92.4,280.0 C93.6,279.9 95.2,281.7 96.2,283.1 C97.2,284.5 97.4,286.8 98.4,288.5 C99.5,290.2 100.8,291.3 102.5,293.5 C104.2,295.7 105.6,298.4 108.6,301.9 C111.6,305.4 117.0,311.1 120.4,314.6 C123.8,318.1 126.2,320.5 128.9,323.0 C131.6,325.5 133.8,328.0 136.5,329.8 C139.2,331.6 142.0,332.5 145.0,334.0 C148.0,335.5 150.9,337.4 154.6,339.0 C158.3,340.6 161.2,342.3 167.3,343.5 C173.4,344.7 184.6,345.3 191.0,346.2 C197.4,347.1 201.0,348.5 205.6,349.0 C210.2,349.5 214.1,349.5 218.3,349.3 C222.5,349.1 227.1,348.2 231.0,348.0 C234.9,347.8 238.7,347.4 242.0,348.0 C245.3,348.6 248.1,350.5 251.1,351.7 C254.1,352.9 256.5,353.5 260.0,355.3 C263.5,357.1 267.9,360.1 272.0,362.5 C276.1,364.9 280.1,367.6 284.8,369.5 C289.5,371.4 295.0,372.7 300.0,374.0 C305.0,375.3 310.8,376.8 315.0,377.5 C319.2,378.2 323.3,378.3 325.0,378.5" fill="none" stroke="#e8282a" stroke-width="1.6"/>
<path d="M49.0,367.8 C49.8,367.6 52.2,366.6 54.0,366.3 C55.8,366.0 57.8,365.8 59.5,365.8 C61.2,365.8 62.6,366.2 64.0,366.3 C65.4,366.4 66.7,366.8 67.8,366.5 C68.9,366.2 69.5,365.8 70.5,364.5 C71.5,363.2 72.2,362.5 73.5,359.0 C74.8,355.5 76.7,350.3 78.3,343.5 C79.9,336.7 82.0,324.7 83.0,318.4 C84.0,312.1 83.8,310.0 84.3,305.8 C84.8,301.6 85.6,297.0 86.2,293.2 C86.8,289.4 87.4,285.8 88.0,283.1 C88.6,280.4 89.1,278.5 89.9,276.8 C90.8,275.1 91.9,273.2 93.1,273.0 C94.3,272.8 95.3,273.9 96.9,275.6 C98.5,277.3 100.1,280.6 102.5,283.0 C104.9,285.4 108.1,287.1 111.1,290.0 C114.1,292.9 117.7,296.7 120.4,300.2 C123.1,303.7 125.1,307.4 127.2,311.0 C129.3,314.6 131.3,319.6 132.9,322.1 C134.5,324.6 135.0,324.9 137.0,326.0 C139.0,327.1 142.1,327.7 145.0,328.8 C147.9,329.9 150.9,331.2 154.6,332.6 C158.3,334.0 163.1,336.1 167.3,337.1 C171.6,338.1 176.2,337.8 180.1,338.4 C184.0,339.0 186.8,339.5 191.0,340.8 C195.2,342.1 201.0,345.1 205.6,346.2 C210.2,347.2 214.1,347.0 218.3,347.1 C222.5,347.2 227.1,346.7 231.0,346.8 C234.9,346.9 238.7,346.7 242.0,347.5 C245.3,348.3 248.1,350.2 251.1,351.7 C254.1,353.2 256.5,354.4 260.0,356.3 C263.5,358.2 267.9,360.7 272.0,362.8 C276.1,364.9 280.1,367.3 284.8,369.2 C289.5,371.1 295.0,372.6 300.0,374.0 C305.0,375.4 310.8,376.5 315.0,377.3 C319.2,378.1 323.3,378.6 325.0,378.8" fill="none" stroke="#f2b630" stroke-width="1.6"/>
<path d="M49.0,385.0 C49.5,384.6 50.0,383.2 51.8,382.5 C53.5,381.8 56.9,380.9 59.5,380.9 C62.1,380.9 64.7,381.9 67.3,382.5 C69.9,383.1 72.0,384.0 75.0,384.4 C78.0,384.8 43.3,384.7 85.0,384.8 C126.7,384.9 285.0,384.8 325.0,384.8" fill="none" stroke="#e6e250" stroke-width="1.9"/>
<line x1="191.9" y1="245" x2="191.9" y2="384" stroke="#000" stroke-width="1.8" stroke-dasharray="6.1,4.8"/>
<line x1="59.6" y1="230.4" x2="71.2" y2="230.4" stroke="#e8e840" stroke-width="1.6"/>
<text x="72.3" y="233.5" font-family="Liberation Serif" font-weight="bold" font-style="italic" font-size="8.7">NaCl solution</text>
<line x1="129.7" y1="230.4" x2="140.3" y2="230.4" stroke="#111" stroke-width="1.6"/>
<text x="141.0" y="233.5" font-family="Liberation Serif" font-weight="bold" font-style="italic" font-size="8.7">250 ppm</text>
<line x1="177.3" y1="230.4" x2="188.9" y2="230.4" stroke="#f2b630" stroke-width="1.6"/>
<text x="189.9" y="233.5" font-family="Liberation Serif" font-weight="bold" font-style="italic" font-size="8.7">120h</text>
<line x1="213.7" y1="230.4" x2="224.6" y2="230.4" stroke="#e8282a" stroke-width="1.6"/>
<text x="226.3" y="233.5" font-family="Liberation Serif" font-weight="bold" font-style="italic" font-size="8.7">24h</text>
<line x1="245.3" y1="230.4" x2="255.0" y2="230.4" stroke="#30b6e8" stroke-width="1.6"/>
<text x="256.9" y="233.5" font-family="Liberation Serif" font-weight="bold" font-style="italic" font-size="8.7">4h</text>
<line x1="272.0" y1="230.4" x2="282.9" y2="230.4" stroke="#2a74c0" stroke-width="1.6"/>
<text x="284.1" y="233.5" font-family="Liberation Serif" font-weight="bold" font-style="italic" font-size="8.7">2h</text>
<line x1="298.7" y1="230.4" x2="309.6" y2="230.4" stroke="#b8223a" stroke-width="1.6"/>
<text x="311.3" y="233.5" font-family="Liberation Serif" font-weight="bold" font-style="italic" font-size="8.7">1h</text>
<text x="187" y="408.2" text-anchor="middle" font-family="Liberation Serif" font-weight="bold" font-style="italic" font-size="9.9">Wavelength (nm)</text>
<text transform="translate(17.4,301) rotate(-90)" text-anchor="middle" font-family="Liberation Serif" font-style="italic" stroke="#000" stroke-width="0.3" font-size="9.3">Absorbance (%)</text>
<text x="0.5" y="229" font-family="Liberation Serif" font-weight="bold" font-size="18">(c)</text>
</g>
<g>
<rect x="394.4" y="379.7" width="12.3" height="8.5" fill="#1ab0ea"/>
<rect x="410.0" y="282.0" width="12.4" height="106.2" fill="#fe0000"/>
<text x="408.4" y="401.2" text-anchor="middle" font-family="Liberation Serif" font-style="italic" stroke="#000" stroke-width="0.3" font-size="8.2">1</text>
<rect x="448.7" y="367.3" width="12.3" height="20.9" fill="#1ab0ea"/>
<rect x="464.3" y="274.4" width="12.4" height="113.8" fill="#fe0000"/>
<text x="462.7" y="401.2" text-anchor="middle" font-family="Liberation Serif" font-style="italic" stroke="#000" stroke-width="0.3" font-size="8.2">2</text>
<rect x="503.0" y="359.8" width="12.3" height="28.4" fill="#1ab0ea"/>
<rect x="518.6" y="266.8" width="12.4" height="121.4" fill="#fe0000"/>
<text x="517.0" y="401.2" text-anchor="middle" font-family="Liberation Serif" font-style="italic" stroke="#000" stroke-width="0.3" font-size="8.2">4</text>
<rect x="557.3" y="350.3" width="12.3" height="37.9" fill="#1ab0ea"/>
<rect x="572.9" y="255.4" width="12.4" height="132.8" fill="#fe0000"/>
<text x="571.3" y="401.2" text-anchor="middle" font-family="Liberation Serif" font-style="italic" stroke="#000" stroke-width="0.3" font-size="8.2">24</text>
<rect x="611.6" y="344.6" width="12.3" height="43.6" fill="#1ab0ea"/>
<rect x="627.2" y="234.6" width="12.4" height="153.6" fill="#fe0000"/>
<text x="625.6" y="401.2" text-anchor="middle" font-family="Liberation Serif" font-style="italic" stroke="#000" stroke-width="0.3" font-size="8.2">120</text>
<path d="M381.3,217.5 H652.7 V388.2" fill="none" stroke="#000" stroke-width="1.4"/>
<line x1="381.3" y1="216.8" x2="381.3" y2="389.0" stroke="#000" stroke-width="1.6"/>
<line x1="380.5" y1="388.2" x2="653.4" y2="388.2" stroke="#000" stroke-width="1.6"/>
<line x1="378.5" y1="388.2" x2="383.5" y2="388.2" stroke="#000" stroke-width="1.3"/>
<text x="375.4" y="391.2" text-anchor="end" font-family="Liberation Serif" font-style="italic" stroke="#000" stroke-width="0.3" font-size="8.8">0</text>
<line x1="381.3" y1="384.4" x2="383.5" y2="384.4" stroke="#000" stroke-width="1.3"/>
<line x1="381.3" y1="380.6" x2="383.5" y2="380.6" stroke="#000" stroke-width="1.3"/>
<line x1="381.3" y1="376.8" x2="383.5" y2="376.8" stroke="#000" stroke-width="1.3"/>
<line x1="381.3" y1="373.0" x2="383.5" y2="373.0" stroke="#000" stroke-width="1.3"/>
<line x1="378.5" y1="369.2" x2="383.5" y2="369.2" stroke="#000" stroke-width="1.3"/>
<text x="375.4" y="372.2" text-anchor="end" font-family="Liberation Serif" font-style="italic" stroke="#000" stroke-width="0.3" font-size="8.8">10</text>
<line x1="381.3" y1="365.4" x2="383.5" y2="365.4" stroke="#000" stroke-width="1.3"/>
<line x1="381.3" y1="361.6" x2="383.5" y2="361.6" stroke="#000" stroke-width="1.3"/>
<line x1="381.3" y1="357.9" x2="383.5" y2="357.9" stroke="#000" stroke-width="1.3"/>
<line x1="381.3" y1="354.1" x2="383.5" y2="354.1" stroke="#000" stroke-width="1.3"/>
<line x1="378.5" y1="350.3" x2="383.5" y2="350.3" stroke="#000" stroke-width="1.3"/>
<text x="375.4" y="353.3" text-anchor="end" font-family="Liberation Serif" font-style="italic" stroke="#000" stroke-width="0.3" font-size="8.8">20</text>
<line x1="381.3" y1="346.5" x2="383.5" y2="346.5" stroke="#000" stroke-width="1.3"/>
<line x1="381.3" y1="342.7" x2="383.5" y2="342.7" stroke="#000" stroke-width="1.3"/>
<line x1="381.3" y1="338.9" x2="383.5" y2="338.9" stroke="#000" stroke-width="1.3"/>
<line x1="381.3" y1="335.1" x2="383.5" y2="335.1" stroke="#000" stroke-width="1.3"/>
<line x1="378.5" y1="331.3" x2="383.5" y2="331.3" stroke="#000" stroke-width="1.3"/>
<text x="375.4" y="334.3" text-anchor="end" font-family="Liberation Serif" font-style="italic" stroke="#000" stroke-width="0.3" font-size="8.8">30</text>
<line x1="381.3" y1="327.5" x2="383.5" y2="327.5" stroke="#000" stroke-width="1.3"/>
<line x1="381.3" y1="323.7" x2="383.5" y2="323.7" stroke="#000" stroke-width="1.3"/>
<line x1="381.3" y1="319.9" x2="383.5" y2="319.9" stroke="#000" stroke-width="1.3"/>
<line x1="381.3" y1="316.1" x2="383.5" y2="316.1" stroke="#000" stroke-width="1.3"/>
<line x1="378.5" y1="312.3" x2="383.5" y2="312.3" stroke="#000" stroke-width="1.3"/>
<text x="375.4" y="315.3" text-anchor="end" font-family="Liberation Serif" font-style="italic" stroke="#000" stroke-width="0.3" font-size="8.8">40</text>
<line x1="381.3" y1="308.5" x2="383.5" y2="308.5" stroke="#000" stroke-width="1.3"/>
<line x1="381.3" y1="304.7" x2="383.5" y2="304.7" stroke="#000" stroke-width="1.3"/>
<line x1="381.3" y1="301.0" x2="383.5" y2="301.0" stroke="#000" stroke-width="1.3"/>
<line x1="381.3" y1="297.2" x2="383.5" y2="297.2" stroke="#000" stroke-width="1.3"/>
<line x1="378.5" y1="293.4" x2="383.5" y2="293.4" stroke="#000" stroke-width="1.3"/>
<text x="375.4" y="296.4" text-anchor="end" font-family="Liberation Serif" font-style="italic" stroke="#000" stroke-width="0.3" font-size="8.8">50</text>
<line x1="381.3" y1="289.6" x2="383.5" y2="289.6" stroke="#000" stroke-width="1.3"/>
<line x1="381.3" y1="285.8" x2="383.5" y2="285.8" stroke="#000" stroke-width="1.3"/>
<line x1="381.3" y1="282.0" x2="383.5" y2="282.0" stroke="#000" stroke-width="1.3"/>
<line x1="381.3" y1="278.2" x2="383.5" y2="278.2" stroke="#000" stroke-width="1.3"/>
<line x1="378.5" y1="274.4" x2="383.5" y2="274.4" stroke="#000" stroke-width="1.3"/>
<text x="375.4" y="277.4" text-anchor="end" font-family="Liberation Serif" font-style="italic" stroke="#000" stroke-width="0.3" font-size="8.8">60</text>
<line x1="381.3" y1="270.6" x2="383.5" y2="270.6" stroke="#000" stroke-width="1.3"/>
<line x1="381.3" y1="266.8" x2="383.5" y2="266.8" stroke="#000" stroke-width="1.3"/>
<line x1="381.3" y1="263.0" x2="383.5" y2="263.0" stroke="#000" stroke-width="1.3"/>
<line x1="381.3" y1="259.2" x2="383.5" y2="259.2" stroke="#000" stroke-width="1.3"/>
<line x1="378.5" y1="255.4" x2="383.5" y2="255.4" stroke="#000" stroke-width="1.3"/>
<text x="375.4" y="258.4" text-anchor="end" font-family="Liberation Serif" font-style="italic" stroke="#000" stroke-width="0.3" font-size="8.8">70</text>
<line x1="381.3" y1="251.6" x2="383.5" y2="251.6" stroke="#000" stroke-width="1.3"/>
<line x1="381.3" y1="247.8" x2="383.5" y2="247.8" stroke="#000" stroke-width="1.3"/>
<line x1="381.3" y1="244.1" x2="383.5" y2="244.1" stroke="#000" stroke-width="1.3"/>
<line x1="381.3" y1="240.3" x2="383.5" y2="240.3" stroke="#000" stroke-width="1.3"/>
<line x1="378.5" y1="236.5" x2="383.5" y2="236.5" stroke="#000" stroke-width="1.3"/>
<text x="375.4" y="239.5" text-anchor="end" font-family="Liberation Serif" font-style="italic" stroke="#000" stroke-width="0.3" font-size="8.8">80</text>
<line x1="381.3" y1="232.7" x2="383.5" y2="232.7" stroke="#000" stroke-width="1.3"/>
<line x1="381.3" y1="228.9" x2="383.5" y2="228.9" stroke="#000" stroke-width="1.3"/>
<line x1="381.3" y1="225.1" x2="383.5" y2="225.1" stroke="#000" stroke-width="1.3"/>
<line x1="381.3" y1="221.3" x2="383.5" y2="221.3" stroke="#000" stroke-width="1.3"/>
<line x1="378.5" y1="217.5" x2="383.5" y2="217.5" stroke="#000" stroke-width="1.3"/>
<text x="375.4" y="220.5" text-anchor="end" font-family="Liberation Serif" font-style="italic" stroke="#000" stroke-width="0.3" font-size="8.8">90</text>
<rect x="408" y="232.6" width="4.3" height="4.3" fill="#1ab0ea"/>
<rect x="407.6" y="253" width="4.6" height="4.6" fill="#fe0000"/>
<text x="420.2" y="238.1" font-family="Liberation Serif" font-weight="bold" font-size="9.5">Ce</text>
<text x="422.3" y="257.9" font-family="Liberation Serif" font-weight="bold" font-size="9.3">DEDTC</text>
<text x="517.3" y="410.3" text-anchor="middle" font-family="Liberation Serif" font-weight="bold" font-style="italic" font-size="9.1">Time (h)</text>
<text transform="translate(356.8,294.6) rotate(-90)" text-anchor="middle" font-family="Liberation Serif" font-style="italic" stroke="#000" stroke-width="0.3" font-size="9.2">Concentration (ppm)</text>
<text x="335.8" y="229.4" font-family="Liberation Serif" font-weight="bold" font-size="18">(d)</text>
</g>
</svg>
</body></html>
